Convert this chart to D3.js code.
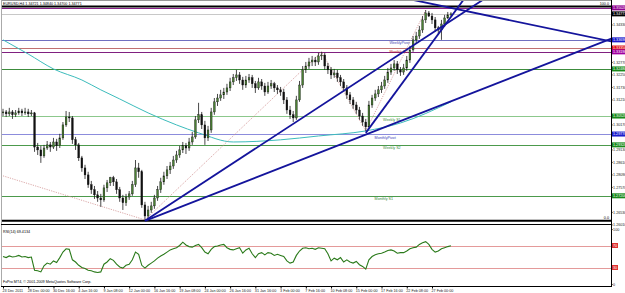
<!DOCTYPE html>
<html>
<head>
<meta charset="utf-8">
<script src="https://cdn.jsdelivr.net/npm/d3@7"></script>
<style>
body { margin: 0; background: #fff; }
text { font-family: "Liberation Sans", Arial, sans-serif; }
</style>
</head>
<body>
<svg id="chart" width="625" height="293"></svg>
<script>
//Chart data (EURUSD H4) - bars are [open, high, low, close]
var quote = ["EURUSD,H4", "1.34721", "1.34840", "1.34700", "1.34771"];

var bars = [
[1.3065,1.3082,1.3052,1.3069],[1.3069,1.3077,1.3048,1.3061],[1.3061,1.3086,1.3052,1.3069],[1.3069,1.3077,1.3040,1.3057],
[1.3057,1.3077,1.3048,1.3065],[1.3065,1.3086,1.3057,1.3073],[1.3073,1.3082,1.3052,1.3065],[1.3065,1.3086,1.3057,1.3069],
[1.3069,1.3082,1.3048,1.3061],[1.3061,1.3077,1.3052,1.3065],[1.3065,1.3069,1.2903,1.2923],[1.2923,1.2940,1.2890,1.2911],
[1.2911,1.2928,1.2857,1.2886],[1.2886,1.2932,1.2878,1.2919],[1.2919,1.2948,1.2911,1.2932],[1.2932,1.2944,1.2903,1.2923],
[1.2923,1.2961,1.2915,1.2944],[1.2944,1.2957,1.2907,1.2928],[1.2928,1.2978,1.2919,1.2961],[1.2961,1.3027,1.2953,1.3015],
[1.3015,1.3073,1.3007,1.3048],[1.3048,1.3069,1.3027,1.3044],[1.3044,1.3052,1.2936,1.2953],[1.2953,1.2965,1.2911,1.2932],
[1.2932,1.2940,1.2865,1.2878],[1.2878,1.2886,1.2820,1.2836],[1.2836,1.2849,1.2790,1.2807],[1.2807,1.2820,1.2753,1.2766],
[1.2766,1.2782,1.2728,1.2745],[1.2745,1.2761,1.2707,1.2724],[1.2724,1.2740,1.2695,1.2711],[1.2711,1.2728,1.2674,1.2703],
[1.2703,1.2766,1.2695,1.2753],[1.2753,1.2786,1.2736,1.2774],[1.2774,1.2799,1.2761,1.2795],[1.2795,1.2803,1.2761,1.2778],
[1.2778,1.2790,1.2728,1.2745],[1.2745,1.2757,1.2695,1.2711],[1.2711,1.2724,1.2661,1.2691],[1.2691,1.2728,1.2678,1.2715],
[1.2715,1.2740,1.2703,1.2728],[1.2728,1.2782,1.2720,1.2766],[1.2766,1.2869,1.2757,1.2836],[1.2836,1.2857,1.2795,1.2820],
[1.2820,1.2828,1.2670,1.2682],[1.2682,1.2695,1.2620,1.2636],[1.2636,1.2678,1.2624,1.2661],[1.2661,1.2695,1.2649,1.2678],
[1.2678,1.2724,1.2666,1.2711],[1.2711,1.2761,1.2699,1.2745],[1.2745,1.2795,1.2732,1.2778],[1.2778,1.2820,1.2766,1.2803],
[1.2803,1.2844,1.2790,1.2828],[1.2828,1.2861,1.2811,1.2844],[1.2844,1.2886,1.2832,1.2869],[1.2869,1.2907,1.2857,1.2890],
[1.2890,1.2928,1.2878,1.2911],[1.2911,1.2944,1.2898,1.2928],[1.2928,1.2940,1.2894,1.2919],[1.2919,1.2961,1.2907,1.2944],
[1.2944,1.2986,1.2932,1.2965],[1.2965,1.3052,1.2957,1.3036],[1.3036,1.3107,1.3023,1.3057],[1.3057,1.3069,1.2998,1.3015],
[1.3015,1.3032,1.2932,1.2961],[1.2961,1.3011,1.2948,1.2994],[1.2994,1.3086,1.2982,1.3069],[1.3069,1.3127,1.3057,1.3111],
[1.3111,1.3144,1.3094,1.3127],[1.3127,1.3161,1.3115,1.3140],[1.3140,1.3169,1.3123,1.3152],[1.3152,1.3186,1.3140,1.3169],
[1.3169,1.3211,1.3156,1.3194],[1.3194,1.3227,1.3181,1.3211],[1.3211,1.3244,1.3198,1.3223],[1.3223,1.3235,1.3186,1.3202],
[1.3202,1.3215,1.3161,1.3181],[1.3181,1.3219,1.3169,1.3202],[1.3202,1.3227,1.3190,1.3211],[1.3211,1.3223,1.3169,1.3186],
[1.3186,1.3198,1.3148,1.3169],[1.3169,1.3211,1.3161,1.3194],[1.3194,1.3206,1.3161,1.3177],[1.3177,1.3190,1.3136,1.3152],
[1.3152,1.3194,1.3144,1.3177],[1.3177,1.3202,1.3165,1.3186],[1.3186,1.3194,1.3152,1.3169],[1.3169,1.3181,1.3144,1.3161],
[1.3161,1.3173,1.3136,1.3152],[1.3152,1.3165,1.3102,1.3119],[1.3119,1.3131,1.3061,1.3077],[1.3077,1.3094,1.3040,1.3057],
[1.3057,1.3073,1.3027,1.3044],[1.3044,1.3136,1.3036,1.3119],[1.3119,1.3198,1.3111,1.3181],[1.3181,1.3260,1.3169,1.3244],
[1.3244,1.3277,1.3231,1.3260],[1.3260,1.3294,1.3248,1.3277],[1.3277,1.3302,1.3260,1.3285],[1.3285,1.3298,1.3260,1.3277],
[1.3277,1.3315,1.3265,1.3302],[1.3302,1.3319,1.3285,1.3306],[1.3306,1.3315,1.3244,1.3260],[1.3260,1.3273,1.3227,1.3244],
[1.3244,1.3256,1.3206,1.3223],[1.3223,1.3248,1.3211,1.3231],[1.3231,1.3244,1.3194,1.3211],[1.3211,1.3223,1.3177,1.3194],
[1.3194,1.3206,1.3152,1.3169],[1.3169,1.3181,1.3123,1.3140],[1.3140,1.3152,1.3102,1.3119],[1.3119,1.3131,1.3082,1.3098],
[1.3098,1.3111,1.3061,1.3077],[1.3077,1.3090,1.3036,1.3052],[1.3052,1.3065,1.3011,1.3027],[1.3027,1.3040,1.2990,1.3007],
[1.3007,1.3115,1.2998,1.3098],[1.3098,1.3140,1.3086,1.3127],[1.3127,1.3161,1.3115,1.3144],[1.3144,1.3177,1.3131,1.3161],
[1.3161,1.3194,1.3148,1.3177],[1.3177,1.3219,1.3165,1.3202],[1.3202,1.3252,1.3190,1.3235],[1.3235,1.3269,1.3223,1.3252],
[1.3252,1.3285,1.3240,1.3269],[1.3269,1.3281,1.3227,1.3244],[1.3244,1.3256,1.3219,1.3235],[1.3235,1.3269,1.3223,1.3252],
[1.3252,1.3302,1.3240,1.3285],[1.3285,1.3344,1.3273,1.3327],[1.3327,1.3385,1.3319,1.3369],[1.3369,1.3402,1.3356,1.3385],
[1.3385,1.3427,1.3373,1.3410],[1.3410,1.3468,1.3398,1.3452],[1.3452,1.3493,1.3439,1.3481],[1.3481,1.3489,1.3464,1.3468],
[1.3468,1.3481,1.3435,1.3452],[1.3452,1.3464,1.3402,1.3419],[1.3419,1.3427,1.3389,1.3410],[1.3410,1.3452,1.3369,1.3435],
[1.3435,1.3473,1.3423,1.3460],[1.3460,1.3485,1.3456,1.3473],[1.3472,1.3484,1.3470,1.3477]
];

var rsi = [
50,48,51,49,50,52,49,50,48,49,
25,24,22,33,38,36,42,39,48,58,
64,63,44,40,34,30,28,25,24,22,
21,22,36,40,46,43,36,31,29,34,
36,44,58,54,34,29,34,38,42,47,
51,54,58,62,64,66,70,76,71,68,
67,70,72,66,58,55,63,68,69,71,
72,66,63,62,64,66,56,62,65,55,
48,55,57,53,57,56,52,54,52,50,
42,38,40,52,60,65,66,64,65,63,
66,65,64,55,42,47,44,48,40,44,
40,38,41,35,32,27,44,50,53,55,
56,58,61,62,60,56,57,57,60,64,
66,67,72,75,77,72,63,58,60,64,
66,68,69.4134
];
var rsiLabel = "RSI(14) 69.4134";
var rsiLevels = [70, 30];

//Moving average read at a few bars: [bar, price]
var maPoints = [[0,1.3369],[8,1.3310],[16,1.3248],[25,1.3202],[31,1.3161],[37,1.3123],[46,1.3065],
    [55,1.3015],[62,1.2982],[73,1.2944],[88,1.2953],[100,1.2969],[115,1.2990],[126,1.3023],[142,1.3111]];

//Zigzag swing points: [bar, price]
var zigzag = [[0,1.2803],[45,1.2620],[101,1.3319],[115,1.2990],[134,1.3493]];

//Trend lines: two anchors [bar, price], ray = extends right only
var trendLines = [
    {a: [45,1.2616], b: [115,1.2975], ray: true},
    {a: [45,1.2616], b: [124,1.3294], ray: true},
    {a: [115,1.2982], b: [130,1.3250], ray: true},
    {a: [130,1.3535], b: [142,1.3502], ray: false}
];

//Pivot levels
var levelPrices = [1.3502, 1.34771, 1.3369, 1.3335, 1.3319, 1.3248, 1.3052, 1.2977, 1.2932, 1.2720];
var levelNames  = ["", "", "WeeklyPivot", "Monthly R1", "", "", "Weekly S1", "MonthlyPivot", "Weekly S2", "Monthly S1"];
var levelLabelBars = [0, 0, 122.5, 122.5, 0, 0, 120.5, 117.8, 120.5, 117.8];
var levelColors = ["#8a208a", "#c8c8c8", "#7070c0", "#c07070", "#802080", "#3c8c3c", "#8cc88c", "#8c8cdc", "#4c9a4c", "#4c9a4c"];
var levelTextColors = ["", "", "#4848b0", "#c02828", "", "", "#3a8a3a", "#3c3cb8", "#3a8a3a", "#3a8a3a"];
var levelTagColors = ["#900090", "#000000", "#1c1ccc", "#e01010", "#a000a0", "#1a8a1a", "#1a8a1a", "#1c1ccc", "#1a8a1a", "#1a8a1a"];

//Fibonacci levels
var fibPrices = [1.3508, 1.2616];
var fibNames = ["100.0", "0.0"];

var priceTicks = [1.34330,1.33810,1.33290,1.32770,1.32250,1.31730,1.31210,1.30690,1.30170,
    1.29650,1.29130,1.28610,1.28090,1.27570,1.27050,1.26530,1.26010];

var timeLabels = ["23 Dec 2011","28 Dec 00:00","30 Dec 16:00","4 Jan 16:00","9 Jan 08:00","12 Jan 00:00",
    "16 Jan 16:00","19 Jan 08:00","24 Jan 00:00","26 Jan 16:00","31 Jan 16:00","3 Feb 00:00",
    "7 Feb 16:00","10 Feb 08:00","15 Feb 00:00","17 Feb 16:00","22 Feb 08:00","27 Feb 00:00"];
var barsPerLabel = 8;

var copyright = "FxPro MT4, \u00a9 2001-2009 MetaQuotes Software Corp.";

//////////////////////////////////////////////

var svg = d3.select("#chart");
var fs = 3.7;
var right = 611;

var x = d3.scaleLinear().domain([0, 136]).range([3, 432]);
var y = d3.scaleLinear().domain([1.2611, 1.3514]).range([222, 5]);
var ry = d3.scaleLinear().domain([0, 100]).range([284, 229]);

var defs = svg.append("defs");
defs.append("clipPath").attr("id", "clipMain")
    .append("rect").attr("x", 1).attr("y", 1).attr("width", right - 1).attr("height", 223);
defs.append("clipPath").attr("id", "clipSub")
    .append("rect").attr("x", 1).attr("y", 226).attr("width", right - 1).attr("height", 60);

var mainG = svg.append("g").attr("clip-path", "url(#clipMain)");
var subG = svg.append("g").attr("clip-path", "url(#clipSub)");

//Horizontal levels
mainG.selectAll(".level")
    .data(levelPrices)
    .enter()
    .append("line")
    .attr("x1", 1).attr("x2", right)
    .attr("y1", d => Math.round(y(d)) + 0.5)
    .attr("y2", d => Math.round(y(d)) + 0.5)
    .attr("stroke", (d, i) => levelColors[i])
    .attr("stroke-width", 1);

//Fib lines
mainG.selectAll(".fib")
    .data(fibPrices)
    .enter()
    .append("line")
    .attr("x1", 1).attr("x2", right)
    .attr("y1", d => y(d)).attr("y2", d => y(d))
    .attr("stroke", "#000")
    .attr("stroke-width", 2);

svg.selectAll(".fibText")
    .data(fibPrices)
    .enter()
    .append("text")
    .attr("x", right - 2)
    .attr("y", d => y(d) - 1.5)
    .attr("text-anchor", "end")
    .attr("font-size", fs)
    .attr("fill", "#000")
    .text((d, i) => fibNames[i]);

//Level names
mainG.selectAll(".levelText")
    .data(levelPrices.map((p, i) => i).filter(i => levelNames[i] != ""))
    .enter()
    .append("text")
    .attr("x", i => x(levelLabelBars[i]))
    .attr("y", i => y(levelPrices[i]) + 4.5)
    .attr("font-size", fs)
    .attr("fill", i => levelTextColors[i])
    .text(i => levelNames[i]);

//Moving average
mainG.append("path")
    .datum(maPoints)
    .attr("d", d3.line().x(d => x(d[0])).y(d => y(d[1])).curve(d3.curveMonotoneX))
    .attr("fill", "none")
    .attr("stroke", "#3cbcbc")
    .attr("stroke-width", 1);

//Zigzag
mainG.append("path")
    .datum(zigzag)
    .attr("d", d3.line().x(d => x(d[0])).y(d => y(d[1])))
    .attr("fill", "none")
    .attr("stroke", "#d09090")
    .attr("stroke-width", 0.8)
    .attr("stroke-dasharray", "1.2,1.2");

//Candles
var candles = mainG.selectAll(".bar")
    .data(bars)
    .enter()
    .append("g");

candles.append("line")
    .attr("x1", (d, i) => x(i)).attr("x2", (d, i) => x(i))
    .attr("y1", d => y(d[1])).attr("y2", d => y(d[2]))
    .attr("stroke", "#1a1a1a")
    .attr("stroke-width", 0.8);

candles.append("rect")
    .attr("x", (d, i) => x(i) - 0.9)
    .attr("width", 1.8)
    .attr("y", d => y(Math.max(d[0], d[3])))
    .attr("height", d => Math.max(0.7, Math.abs(y(d[0]) - y(d[3]))))
    .attr("fill", d => d[3] >= d[0] ? "#4a7f33" : "#111")
    .attr("stroke", "#111")
    .attr("stroke-width", 0.35);

//Trend lines
var xEnd = x.invert(right + 2);
mainG.selectAll(".trend")
    .data(trendLines)
    .enter()
    .append("line")
    .each(function(d) {
        var slope = (d.b[1] - d.a[1]) / (d.b[0] - d.a[0]);
        var b0 = d.ray ? d.a[0] : x.invert(0);
        d3.select(this)
            .attr("x1", x(b0)).attr("y1", y(d.a[1] + slope * (b0 - d.a[0])))
            .attr("x2", x(xEnd)).attr("y2", y(d.a[1] + slope * (xEnd - d.a[0])));
    })
    .attr("stroke", "#14149c")
    .attr("stroke-width", 1.8);

//RSI levels
subG.selectAll(".rsiLevel")
    .data(rsiLevels)
    .enter()
    .append("line")
    .attr("x1", 1).attr("x2", right)
    .attr("y1", d => Math.round(ry(d)) + 0.5).attr("y2", d => Math.round(ry(d)) + 0.5)
    .attr("stroke", "#e49a9a")
    .attr("stroke-width", 1);

subG.append("path")
    .datum(rsi)
    .attr("d", d3.line().x((d, i) => x(i)).y(d => ry(d)))
    .attr("fill", "none")
    .attr("stroke", "#2a7a1a")
    .attr("stroke-width", 1.1);

//Frames
svg.append("line").attr("x1", 1).attr("x2", right).attr("y1", 0.5).attr("y2", 0.5).attr("stroke", "#999");
svg.append("line").attr("x1", 1.5).attr("x2", 1.5).attr("y1", 0).attr("y2", 286).attr("stroke", "#aaa");
svg.append("line").attr("x1", 1).attr("x2", right).attr("y1", 224.5).attr("y2", 224.5).attr("stroke", "#000");
svg.append("line").attr("x1", 1).attr("x2", right).attr("y1", 286.5).attr("y2", 286.5).attr("stroke", "#000");

//Price axis - skip tick labels hidden under a level tag
var visibleTicks = priceTicks.filter(t => levelPrices.every(p => Math.abs(y(p) - y(t)) > 4.5));
var priceAxis = svg.append("g")
    .attr("transform", "translate(" + (right + 0.5) + ",0)")
    .call(d3.axisRight(y).tickValues(visibleTicks).tickFormat(d3.format(".5f")).tickSize(1).tickPadding(0.6));
priceAxis.select(".domain").attr("d", "M0,0V287").attr("stroke", "#000");
priceAxis.selectAll("text").attr("font-size", fs).attr("font-family", "Liberation Sans").attr("fill", "#222");

var rsiAxis = svg.append("g")
    .attr("transform", "translate(" + (right + 0.5) + ",0)")
    .call(d3.axisRight(ry).tickValues([0, 100]).tickSize(1).tickPadding(0.6));
rsiAxis.select(".domain").remove();
rsiAxis.selectAll("text").attr("font-size", fs).attr("font-family", "Liberation Sans").attr("fill", "#222");

//Level tags on the price axis
var tags = svg.selectAll(".tag")
    .data(levelPrices)
    .enter()
    .append("g")
    .attr("transform", d => "translate(" + (right + 1) + "," + y(d) + ")");
tags.append("rect")
    .attr("x", 0).attr("y", -2.5).attr("width", 14).attr("height", 5)
    .attr("fill", (d, i) => levelTagColors[i]);
tags.append("text")
    .attr("x", 1).attr("y", 1.3)
    .attr("font-size", fs)
    .attr("fill", "#fff")
    .text(d => d3.format(".5f")(d));

//RSI level tags
var rtags = svg.selectAll(".rtag")
    .data(rsiLevels)
    .enter()
    .append("g")
    .attr("transform", d => "translate(" + (right + 1) + "," + ry(d) + ")");
rtags.append("rect")
    .attr("x", 0).attr("y", -2.5).attr("width", 6).attr("height", 5)
    .attr("fill", "#e03030");
rtags.append("text")
    .attr("x", 1).attr("y", 1.3)
    .attr("font-size", fs)
    .attr("fill", "#fff")
    .text(d => d);

//Time axis
var timeAxis = svg.append("g")
    .attr("transform", "translate(0,287)")
    .call(d3.axisBottom(x)
        .tickValues(timeLabels.map((t, k) => k * barsPerLabel))
        .tickFormat((d, k) => timeLabels[k])
        .tickSize(1.5).tickPadding(1));
timeAxis.select(".domain").remove();
timeAxis.selectAll("text")
    .attr("text-anchor", "start")
    .attr("dx", -1)
    .attr("font-size", fs)
    .attr("font-family", "Liberation Sans")
    .attr("fill", "#222");

//Captions
svg.append("text")
    .attr("x", 3).attr("y", 5)
    .attr("font-size", fs)
    .attr("fill", "#000")
    .text(quote.join(" "));

svg.append("text")
    .attr("x", 3).attr("y", 233)
    .attr("font-size", fs)
    .attr("fill", "#000")
    .text(rsiLabel);

svg.append("text")
    .attr("x", 3).attr("y", 283)
    .attr("font-size", fs)
    .attr("fill", "#000")
    .text(copyright);
</script>
</body>
</html>
